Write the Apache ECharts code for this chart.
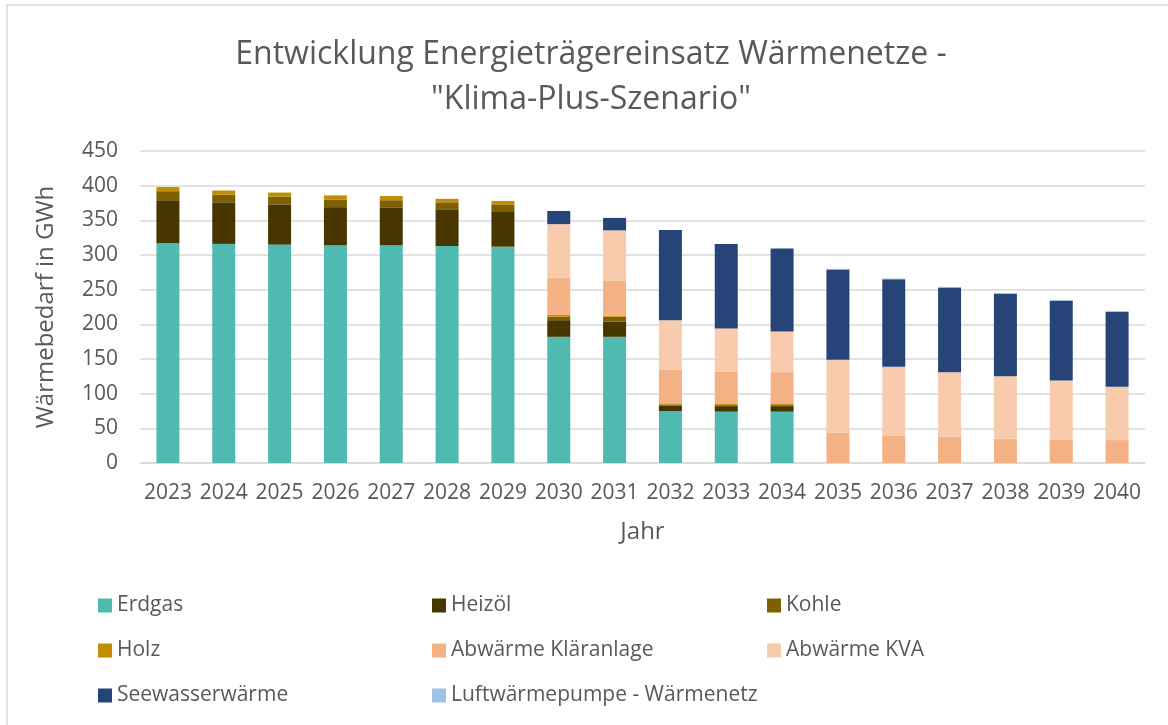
<!DOCTYPE html>
<html>
<head>
<meta charset="utf-8">
<title>Wärmenetze Klima-Plus</title>
<script src="https://cdn.jsdelivr.net/npm/echarts@6.0.0/dist/echarts.min.js"></script>
<style>
  html, body { margin: 0; padding: 0; background: #fff; }
  #chart { width: 1168px; height: 725px; }
</style>
</head>
<body>
<div id="chart"></div>
<script>
const years = ['2023', '2024', '2025', '2026', '2027', '2028', '2029', '2030', '2031',
  '2032', '2033', '2034', '2035', '2036', '2037', '2038', '2039', '2040']

// GWh je Energieträger
const erdgas = [317, 316, 315, 314, 314, 313, 312, 182, 182, 75, 74, 74, 0, 0, 0, 0, 0, 0]
const heizoel = [62, 60, 58, 55, 54, 52, 50, 24, 22, 8, 8, 8, 0, 0, 0, 0, 0, 0]
const kohle = [13, 11, 11, 11, 11, 11, 11, 5, 7, 1.5, 1.5, 1.5, 0, 0, 0, 0, 0, 0]
const holz = [6, 6, 6, 6, 6, 5, 5, 2.5, 1.5, 1.5, 1.5, 1.5, 0, 0, 0, 0, 0, 0]
const klaeranlage = [0, 0, 0, 0, 0, 0, 0, 54, 50, 49, 47, 46, 44, 39, 38, 35, 34, 33]
const kva = [0, 0, 0, 0, 0, 0, 0, 77, 73, 71, 62, 58.5, 105, 100, 93, 90, 85, 77]
const seewasser = [0, 0, 0, 0, 0, 0, 0, 19, 18, 130, 122, 120, 130, 126, 122, 119, 115, 108]
const luft = [0, 0, 0, 0, 0, 0, 0, 0, 0, 0, 0, 0, 1, 1, 1, 1, 1, 1]

const yTicks = { min: 0, max: 450, step: 50 }

const textColor = '#595959'
const fontFamily = '"Open Sans", "Liberation Sans", sans-serif'

const seriesList = [
  { name: 'Erdgas', data: erdgas, color: '#4fbaaf' },
  { name: 'Heizöl', data: heizoel, color: '#473600' },
  { name: 'Kohle', data: kohle, color: '#7f6000' },
  { name: 'Holz', data: holz, color: '#bf8f00' },
  { name: 'Abwärme Kläranlage', data: klaeranlage, color: '#f4b183' },
  { name: 'Abwärme KVA', data: kva, color: '#f8cbad' },
  { name: 'Seewasserwärme', data: seewasser, color: '#264478' },
  { name: 'Luftwärmepumpe - Wärmenetz', data: luft, color: '#9dc3e6' }
]

function legendColumn (left, names) {
  return {
    orient: 'vertical',
    left: left,
    top: 595,
    padding: 0,
    itemGap: 24,
    itemWidth: 14,
    itemHeight: 14,
    icon: 'rect',
    data: names,
    textStyle: { color: textColor, fontSize: 21, lineHeight: 21, fontFamily: fontFamily }
  }
}

const chart = echarts.init(document.getElementById('chart'))
chart.setOption({
  backgroundColor: '#fff',
  textStyle: { fontFamily: fontFamily },
  title: {
    text: 'Entwicklung Energieträgereinsatz Wärmenetze -\n"Klima-Plus-Szenario"',
    left: 591,
    textAlign: 'center',
    top: 32,
    padding: 0,
    textStyle: {
      color: textColor,
      fontSize: 32,
      fontWeight: 'normal',
      lineHeight: 45,
      fontFamily: fontFamily
    }
  },
  graphic: [{
    type: 'rect',
    shape: { x: 7, y: 5, width: 1200, height: 800 },
    style: { fill: 'none', stroke: '#d9d9d9', lineWidth: 1.5 },
    silent: true
  }],
  legend: [
    legendColumn(98, ['Erdgas', 'Holz', 'Seewasserwärme']),
    legendColumn(432, ['Heizöl', 'Abwärme Kläranlage', 'Luftwärmepumpe - Wärmenetz']),
    legendColumn(767, ['Kohle', 'Abwärme KVA'])
  ],
  grid: {
    left: 140,
    right: 23,
    top: 151,
    bottom: 262
  },
  xAxis: {
    type: 'category',
    data: years,
    name: 'Jahr',
    nameLocation: 'middle',
    nameGap: 57,
    nameTextStyle: { color: textColor, fontSize: 24 },
    axisLine: { lineStyle: { color: '#d9d9d9', width: 1.5 } },
    axisTick: { show: false },
    axisLabel: { color: textColor, fontSize: 21, margin: 20, interval: 0 }
  },
  yAxis: {
    type: 'value',
    min: yTicks.min,
    max: yTicks.max,
    interval: yTicks.step,
    name: 'Wärmebedarf in GWh',
    nameLocation: 'middle',
    nameGap: 82,
    nameTextStyle: { color: textColor, fontSize: 24 },
    axisLine: { show: false },
    axisTick: { show: false },
    axisLabel: { color: textColor, fontSize: 21, margin: 22 },
    splitLine: { lineStyle: { color: '#d9d9d9', width: 1.5 } }
  },
  series: seriesList.map(function (s) {
    return {
      name: s.name,
      type: 'bar',
      stack: 'total',
      barWidth: 23,
      data: s.data,
      itemStyle: { color: s.color },
      emphasis: { disabled: true }
    }
  }),
  animation: false
})
</script>
</body>
</html>
